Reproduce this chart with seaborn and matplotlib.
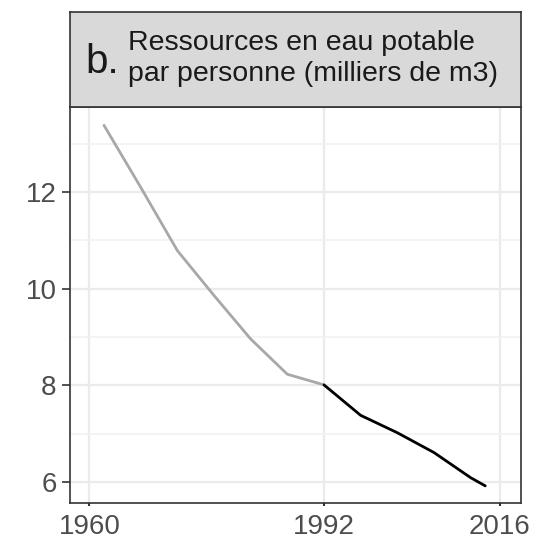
import matplotlib
matplotlib.use("Agg")
import matplotlib.pyplot as plt
import seaborn as sns
import numpy as np
import pandas as pd

# Water resources per person (thousand m3)
years = [1962, 1967, 1972, 1977, 1982, 1987, 1992, 1997, 2002, 2007, 2012, 2014]
values = [13.38, 12.10, 10.79, 9.86, 8.96, 8.23, 8.01, 7.38, 7.02, 6.61, 6.09, 5.92]
split_year = 1992

x_ticks = [1960, 1992, 2016]
y_ticks = [6, 8, 10, 12]
y_minor = [7, 9, 11, 13]

panel_letter = "b."
strip_lines = ["Ressources en eau potable", "par personne (milliers de m3)"]

df = pd.DataFrame({"year": years, "value": values})
before = df[df["year"] <= split_year]
after = df[df["year"] >= split_year]

sns.set_theme(style="white")
plt.rcParams["font.family"] = ["Liberation Sans", "DejaVu Sans"]

fig = plt.figure(figsize=(5.36, 5.40), dpi=100)
ax = fig.add_axes([0.1315, 0.068, 0.8405, 0.733])

sns.lineplot(data=before, x="year", y="value", ax=ax, color="#A8A8A8",
             linewidth=2.0, zorder=3)
sns.lineplot(data=after, x="year", y="value", ax=ax, color="#000000",
             linewidth=2.0, zorder=3)

ax.set_xlim(1957.43, 2018.87)
ax.set_ylim(5.56, 13.75)
ax.set_xticks(x_ticks)
ax.set_yticks(y_ticks)
ax.set_yticks(y_minor, minor=True)
ax.set_xlabel("")
ax.set_ylabel("")

ax.grid(which="major", color="#EBEBEB", linewidth=1.6, zorder=0)
ax.grid(which="minor", axis="y", color="#F2F2F2", linewidth=1.2, zorder=0)
ax.set_axisbelow(True)

for s in ax.spines.values():
    s.set_color("#333333")
    s.set_linewidth(1.2)

ax.tick_params(axis="y", which="major", length=6, width=1.2, color="#333333",
               labelsize=20, labelcolor="#4D4D4D", pad=4, left=True)
ax.tick_params(axis="x", which="major", length=2.5, width=1.5, color="#333333",
               labelsize=20, labelcolor="#4D4D4D", pad=5, bottom=True)
ax.tick_params(which="minor", length=0)

# facet strip
strip = fig.add_axes([0.1315, 0.801, 0.8405, 0.177])
strip.set_facecolor("#D9D9D9")
strip.set_xticks([])
strip.set_yticks([])
for s in strip.spines.values():
    s.set_color("#333333")
    s.set_linewidth(1.2)
strip.text(0.034, 0.36, panel_letter, fontsize=29, color="#1A1A1A",
           ha="left", va="baseline", transform=strip.transAxes)
strip.text(0.128, 0.60, strip_lines[0], fontsize=20.5, color="#1A1A1A",
           ha="left", va="baseline", transform=strip.transAxes)
strip.text(0.128, 0.277, strip_lines[1], fontsize=20.5, color="#1A1A1A",
           ha="left", va="baseline", transform=strip.transAxes)

fig.savefig("out.png", dpi=100)
